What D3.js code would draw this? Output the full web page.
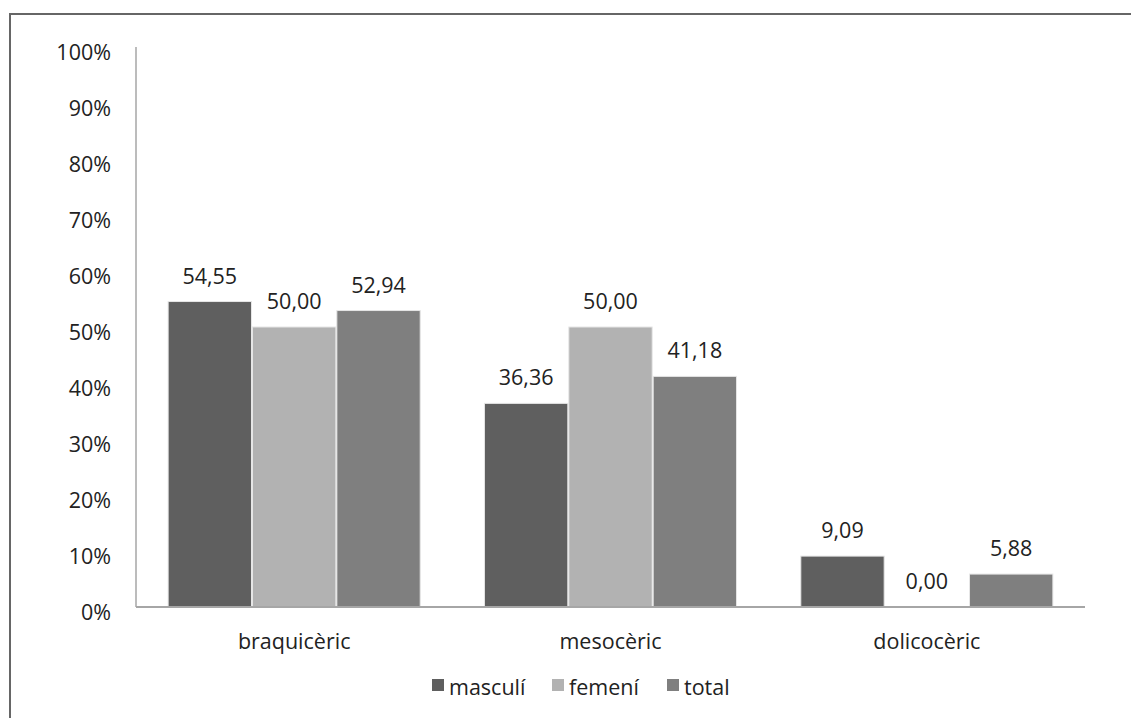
<!DOCTYPE html>
<html>
<head>
<meta charset="utf-8">
<script src="https://cdn.jsdelivr.net/npm/d3@7/dist/d3.min.js"></script>
<style>
  html, body { margin: 0; padding: 0; background: #fff; }
  svg { display: block; }
  text { font-family: "Open Sans", Lato, sans-serif; fill: #222; }
</style>
</head>
<body>
<svg id="chart" width="1131" height="718"></svg>
<script>
// Cephalic index classes, percentage per group
const categories = ["braquicèric", "mesocèric", "dolicocèric"];
const seriesNames = ["masculí", "femení", "total"];
const masculi = [54.55, 36.36, 9.09];
const femeni  = [50.00, 50.00, 0.00];
const total   = [52.94, 41.18, 5.88];
const yTicks = [0, 10, 20, 30, 40, 50, 60, 70, 80, 90, 100];
const colors = ["#5f5f5f", "#b2b2b2", "#7f7f7f"];

const seriesValues = [masculi, femeni, total];
const fmt = v => v.toFixed(2).replace(".", ",");
const FS = 21.5;

const svg = d3.select("#chart");

// frame
svg.append("path")
  .attr("d", "M10,718 L10,14 L1131,14")
  .attr("fill", "none")
  .attr("stroke", "#666")
  .attr("stroke-width", 2);

const plotLeft = 136, plotRight = 1085, plotTop = 47, plotBottom = 607;

const x0 = d3.scaleBand().domain(categories).range([plotLeft, plotRight]).paddingInner(0.2).paddingOuter(0.1);
const x1 = d3.scaleBand().domain(seriesNames).range([0, x0.bandwidth()]).padding(0);
const y = d3.scaleLinear().domain([0, 100]).range([plotBottom, plotTop]);

// y tick labels
svg.append("g").selectAll("text")
  .data(yTicks).join("text")
  .attr("x", 111)
  .attr("y", d => y(d) + 4)
  .attr("text-anchor", "end")
  .attr("dominant-baseline", "central")
  .attr("font-size", FS)
  .text(d => d + "%");

// bars
const groups = svg.append("g").selectAll("g")
  .data(categories).join("g")
  .attr("transform", c => `translate(${x0(c)},0)`);

groups.each(function(c, ci) {
  const g = d3.select(this);
  const rows = seriesNames.map((s, si) => ({ s, si, v: seriesValues[si][ci] }));
  g.selectAll("rect")
    .data(rows.filter(r => r.v > 0)).join("rect")
    .attr("x", r => x1(r.s) + 0.5)
    .attr("width", x1.bandwidth() - 1)
    .attr("y", r => y(r.v))
    .attr("height", r => y(0) - y(r.v))
    .attr("fill", r => colors[r.si])
    .attr("stroke", "#e6e6e6")
    .attr("stroke-width", 1);
  g.selectAll("text.val")
    .data(rows).join("text")
    .attr("class", "val")
    .attr("x", r => x1(r.s) + x1.bandwidth() / 2)
    .attr("y", r => y(r.v) - 18)
    .attr("text-anchor", "middle")
    .attr("font-size", FS)
    .text(r => fmt(r.v));
});

// axes lines
svg.append("line")
  .attr("x1", plotLeft).attr("x2", plotLeft)
  .attr("y1", y(100)).attr("y2", y(0))
  .attr("stroke", "#a6a6a6").attr("stroke-width", 1.5);
svg.append("line")
  .attr("x1", plotLeft).attr("x2", plotRight)
  .attr("y1", y(0)).attr("y2", y(0))
  .attr("stroke", "#a6a6a6").attr("stroke-width", 2);

// category labels
svg.append("g").selectAll("text")
  .data(categories).join("text")
  .attr("x", c => x0(c) + x0.bandwidth() / 2)
  .attr("y", 649)
  .attr("text-anchor", "middle")
  .attr("font-size", FS)
  .text(c => c);

// legend
const legendX = [432, 552, 667];
const legend = svg.append("g").selectAll("g")
  .data(seriesNames).join("g")
  .attr("transform", (s, i) => `translate(${legendX[i]},686)`);
legend.append("rect")
  .attr("x", 0).attr("y", -7)
  .attr("width", 12).attr("height", 12)
  .attr("fill", (s, i) => colors[i]);
legend.append("text")
  .attr("x", 17).attr("y", 0)
  .attr("dominant-baseline", "central")
  .attr("font-size", FS)
  .text(s => s);
</script>
</body>
</html>
